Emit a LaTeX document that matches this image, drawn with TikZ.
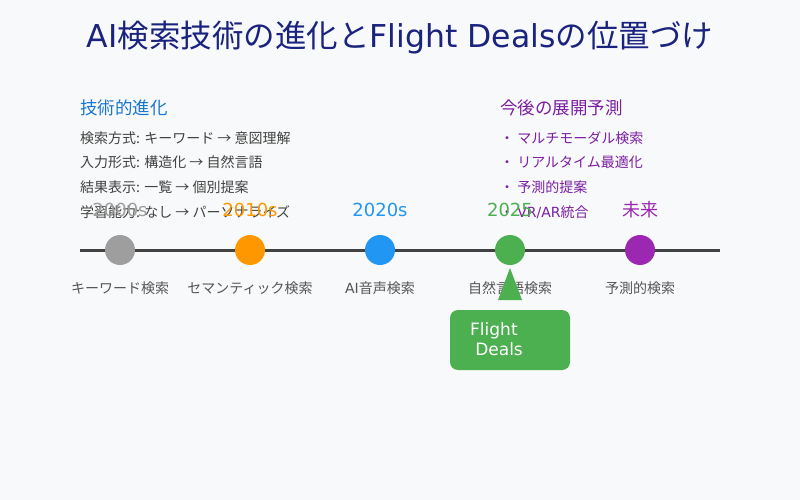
\documentclass[tikz,border=0pt]{standalone}
\usepackage{fontspec}
\setmainfont{Noto Sans CJK JP}
\newfontfamily\latinfont{DejaVu Sans}
\newcommand\lat[1]{{\latinfont #1}}
\usetikzlibrary{positioning}

\definecolor{bgcol}{HTML}{F8F9FA}
\definecolor{titlecol}{HTML}{1A237E}
\definecolor{linecol}{HTML}{424242}
\definecolor{textcol}{HTML}{555555}
\definecolor{c2000}{HTML}{9E9E9E}
\definecolor{c2010}{HTML}{FF9800}
\definecolor{c2020}{HTML}{2196F3}
\definecolor{c2025}{HTML}{4CAF50}
\definecolor{cfut}{HTML}{9C27B0}
\definecolor{headblue}{HTML}{1976D2}
\definecolor{headpurple}{HTML}{7B1FA2}

\begin{document}
\begin{tikzpicture}
[x=1pt,y=-1pt,
	dot/.style={circle,minimum size=30pt,inner sep=0pt},
	era/.style={font=\fontsize{18}{20}\selectfont,inner sep=0pt},
	kind/.style={font=\fontsize{14}{16}\selectfont,text=textcol,inner sep=0pt},
	item/.style={anchor=west,font=\fontsize{14}{16}\selectfont,inner sep=0pt},
	head/.style={anchor=west,font=\fontsize{17.5}{20}\selectfont,inner sep=0pt}]
\fill[bgcol] (0,0) rectangle (800,500);

% title
\node[text=titlecol,font=\fontsize{31.5}{34}\selectfont] (title) at (400,38) {\lat{AI}検索技術の進化と\lat{Flight Deals}の位置づけ};

% left block
\node[head,text=headblue] (techhead) at (80,108) {技術的進化};
\node[item,text=linecol] (tech1) at (80,138) {検索方式: キーワード → 意図理解};
\node[item,text=linecol] (tech2) at (80,162) {入力形式: 構造化 → 自然言語};
\node[item,text=linecol] (tech3) at (80,187) {結果表示: 一覧 → 個別提案};
\node[item,text=linecol] (tech4) at (80,212) {学習能力: なし → パーソナライズ};

% right block
\node[head,text=headpurple] (futhead) at (500,108) {今後の展開予測};
\node[item,text=headpurple] (fut1) at (500,138) {・ マルチモーダル検索};
\node[item,text=headpurple] (fut2) at (500,162) {・ リアルタイム最適化};
\node[item,text=headpurple] (fut3) at (500,187) {・ 予測的提案};
\node[item,text=headpurple] (fut4) at (500,212) {・ \lat{VR/AR}統合};

% timeline
\coordinate (tlstart) at (80,250);
\coordinate (tlend) at (720,250);
\draw[linecol,line width=3pt] (tlstart) -- (tlend);

\node[dot,fill=c2000] (d2000) at (120,250) {};
\node[dot,fill=c2010] (d2010) at (250,250) {};
\node[dot,fill=c2020] (d2020) at (380,250) {};
\node[dot,fill=c2025] (d2025) at (510,250) {};
\node[dot,fill=cfut] (dfut) at (640,250) {};

\node[era,text=c2000] (y2000) at (120,210) {\lat{2000s}};
\node[era,text=c2010] (y2010) at (250,210) {\lat{2010s}};
\node[era,text=c2020] (y2020) at (380,210) {\lat{2020s}};
\node[era,text=c2025] (y2025) at (510,210) {\lat{2025}};
\node[era,text=cfut] (yfut) at (640,210) {未来};

\node[kind] (k2000) at (120,288) {キーワード検索};
\node[kind] (k2010) at (250,288) {セマンティック検索};
\node[kind] (k2020) at (380,288) {\lat{AI}音声検索};
\node[kind] (k2025) at (510,288) {自然言語検索};
\node[kind] (kfut) at (640,288) {予測的検索};

% Flight Deals
\node[fill=c2025,rounded corners=8pt,minimum width=120pt,minimum height=60pt,inner sep=0pt] (deals) at (510,340) {};
\node[anchor=west,text=white,align=left,inner sep=0pt,font=\latinfont\fontsize{17}{20}\selectfont] (dealstext) at (470,339) {Flight\\\hspace{0.3em}Deals};
\coordinate (tip) at (510,268);
\fill[c2025] (tip) -- (522,300) -- (498,300) -- cycle;
\end{tikzpicture}
\end{document}
